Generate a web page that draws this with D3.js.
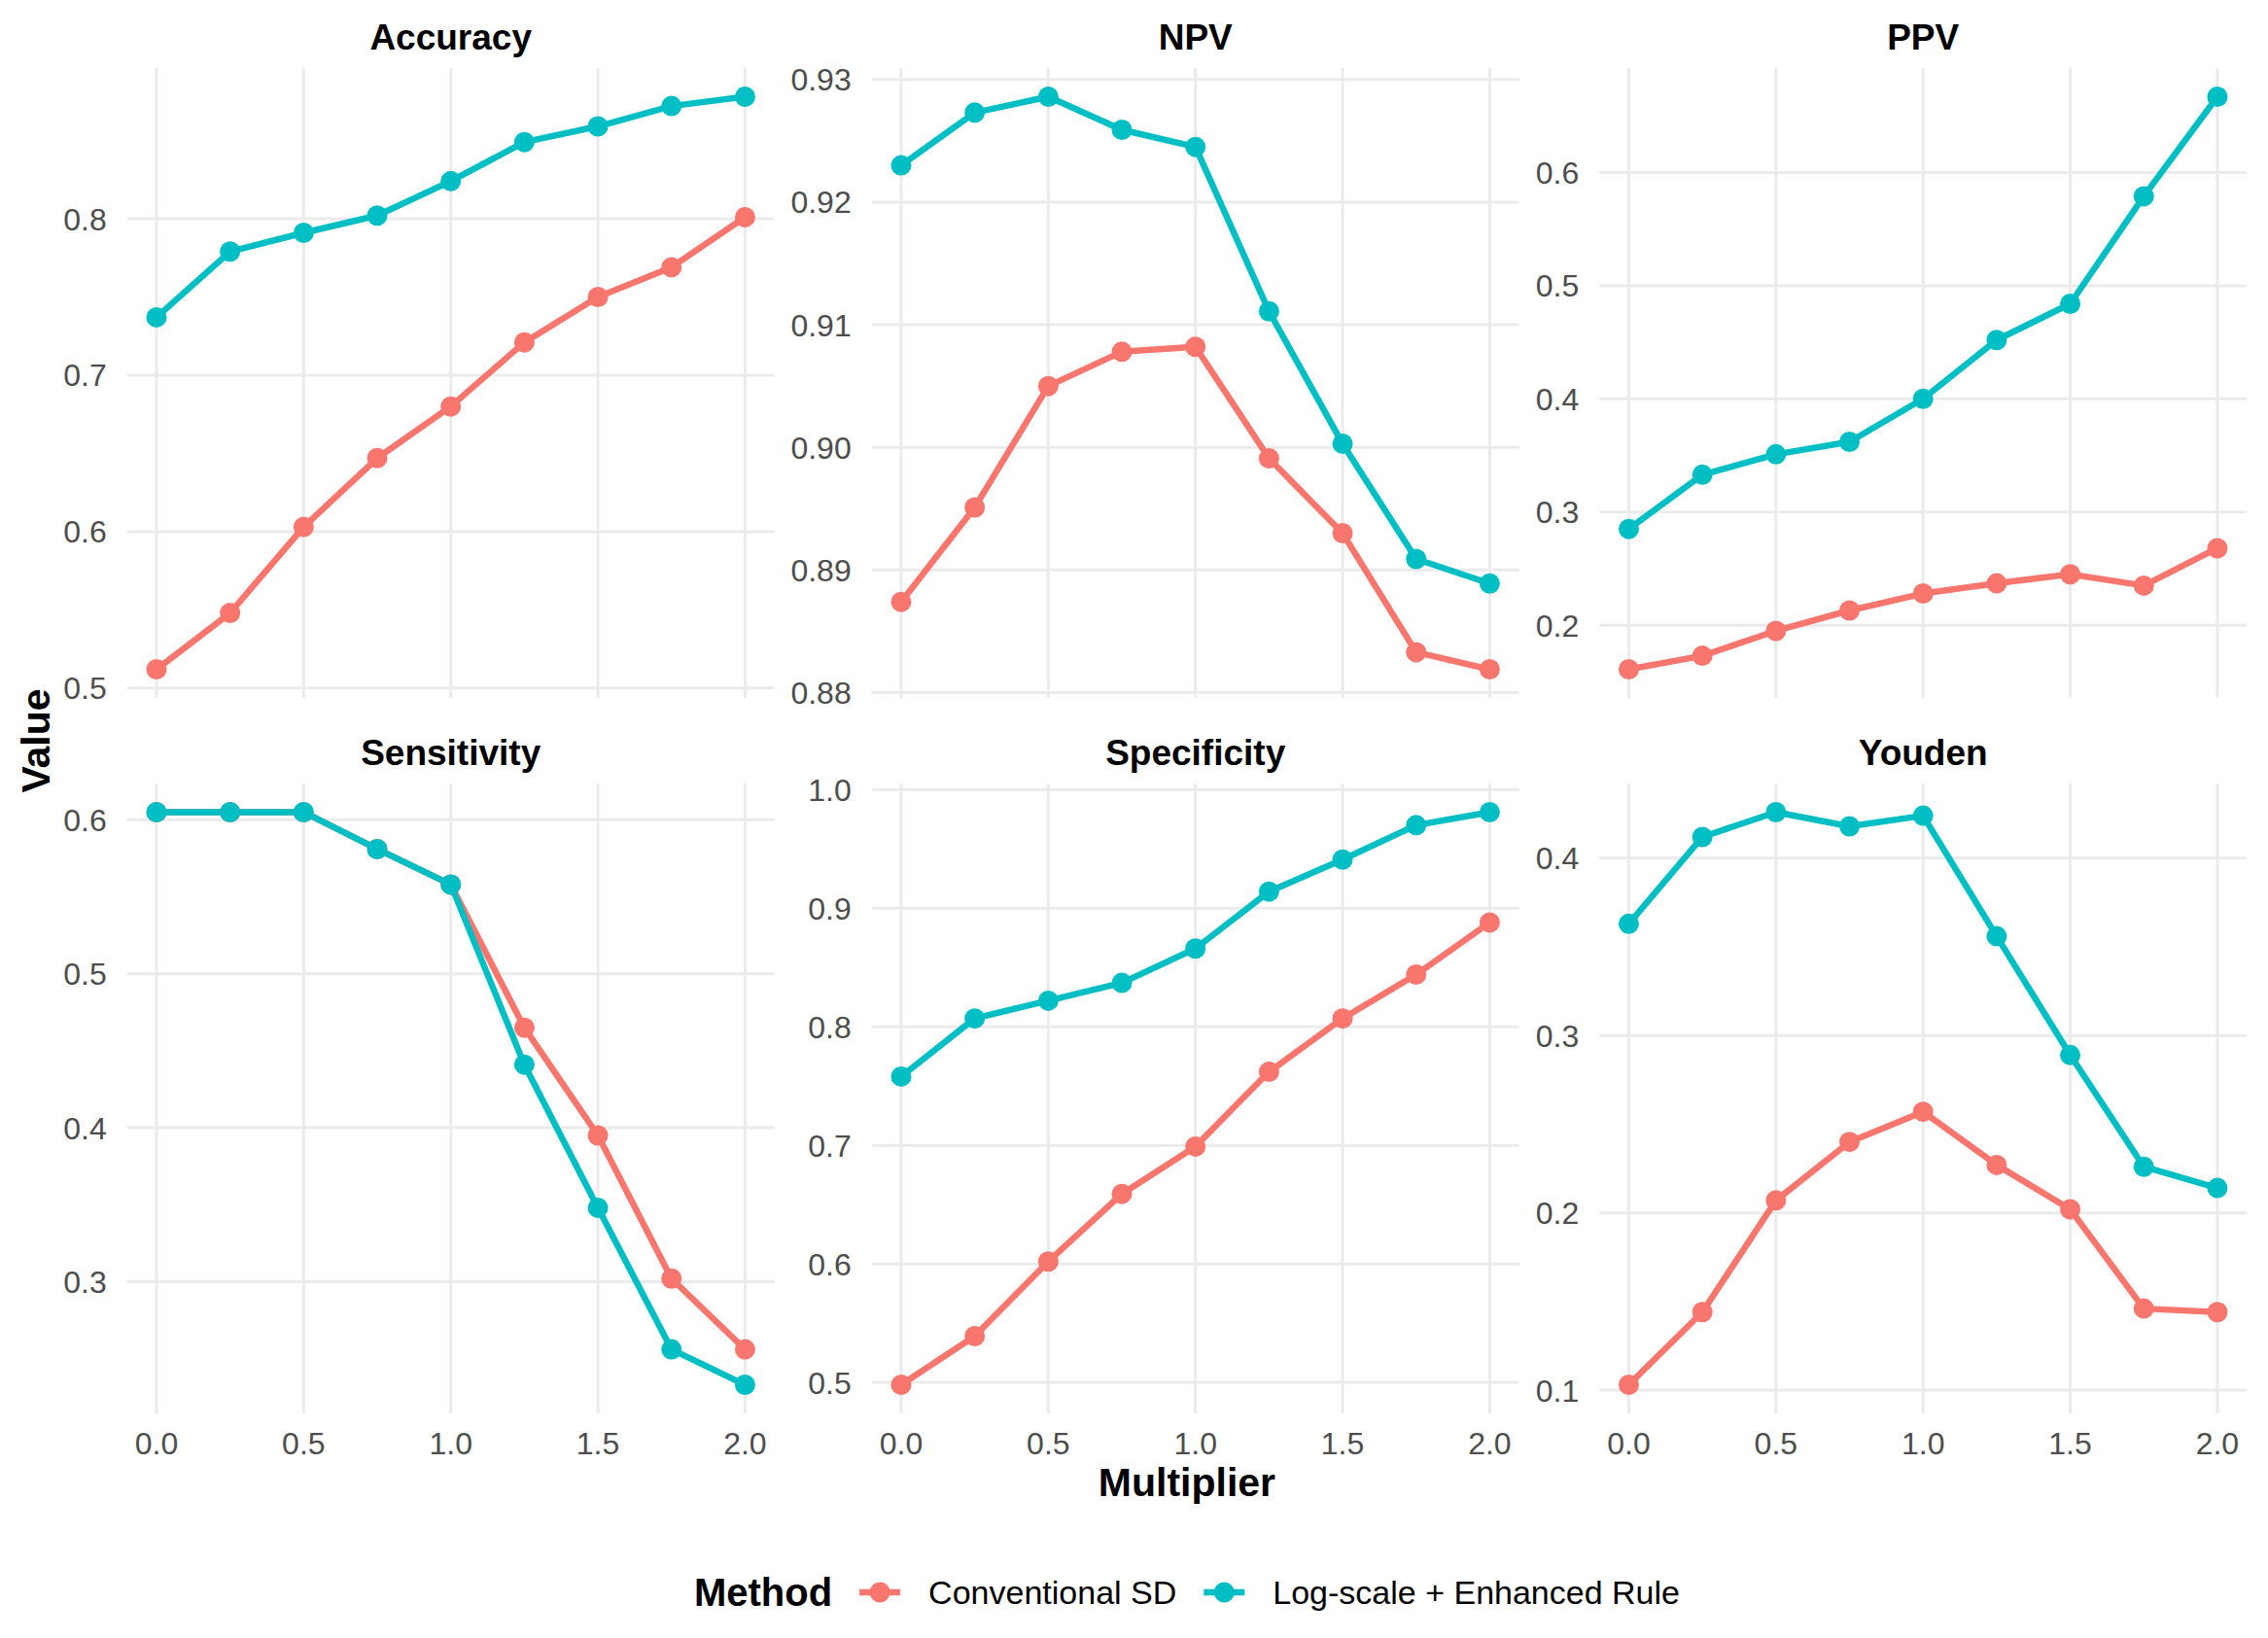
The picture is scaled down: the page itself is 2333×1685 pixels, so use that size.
<!DOCTYPE html>
<html lang="en">
  <head>
    <meta charset="utf-8">
    <title>Metrics by multiplier</title>
    <script type="text/javascript" src="https://cdn.jsdelivr.net/npm/d3@7"></script>
    <style>
      body { margin: 0; background: #fff; }
      text { font-family: "Liberation Sans", Arial, Helvetica, sans-serif; }
    </style>
  </head>
  <body>
    <script type="text/javascript">
    // x values shared by every panel
    var multipliers = [0, 0.25, 0.5, 0.75, 1.0, 1.25, 1.5, 1.75, 2.0];
    var methods = ["Conventional SD", "Log-scale + Enhanced Rule"];
    var metrics = ["Accuracy", "NPV", "PPV", "Sensitivity", "Specificity", "Youden"];

    // values, one array per metric and method
    var accuracyConv = [0.512, 0.548, 0.603, 0.647, 0.680, 0.721, 0.750, 0.769, 0.801];
    var accuracyLog  = [0.737, 0.779, 0.791, 0.802, 0.824, 0.849, 0.859, 0.872, 0.878];
    var npvConv = [0.8874, 0.8951, 0.9050, 0.9078, 0.9082, 0.8991, 0.8930, 0.8833, 0.8819];
    var npvLog  = [0.9230, 0.9273, 0.9286, 0.9259, 0.9245, 0.9111, 0.9003, 0.8909, 0.8889];
    var ppvConv = [0.161, 0.173, 0.195, 0.213, 0.228, 0.237, 0.245, 0.235, 0.268];
    var ppvLog  = [0.285, 0.333, 0.351, 0.362, 0.400, 0.452, 0.484, 0.579, 0.667];
    var sensConv = [0.605, 0.605, 0.605, 0.581, 0.558, 0.465, 0.395, 0.302, 0.256];
    var sensLog  = [0.605, 0.605, 0.605, 0.581, 0.558, 0.441, 0.348, 0.256, 0.233];
    var specConv = [0.498, 0.539, 0.602, 0.659, 0.699, 0.762, 0.807, 0.844, 0.888];
    var specLog  = [0.758, 0.807, 0.822, 0.837, 0.866, 0.914, 0.941, 0.970, 0.981];
    var youdenConv = [0.103, 0.144, 0.207, 0.240, 0.257, 0.227, 0.202, 0.146, 0.144];
    var youdenLog  = [0.363, 0.412, 0.426, 0.418, 0.424, 0.356, 0.289, 0.226, 0.214];

    // tick labels
    var xTicks = ["0.0", "0.5", "1.0", "1.5", "2.0"];
    var accuracyTicks = ["0.5", "0.6", "0.7", "0.8"];
    var npvTicks = ["0.88", "0.89", "0.90", "0.91", "0.92", "0.93"];
    var ppvTicks = ["0.2", "0.3", "0.4", "0.5", "0.6"];
    var sensTicks = ["0.3", "0.4", "0.5", "0.6"];
    var specTicks = ["0.5", "0.6", "0.7", "0.8", "0.9", "1.0"];
    var youdenTicks = ["0.1", "0.2", "0.3", "0.4"];

    var colours = ["#F8766D", "#00BFC4"];

    var panels = [
      {name: metrics[0], series: [accuracyConv, accuracyLog], ticks: accuracyTicks},
      {name: metrics[1], series: [npvConv, npvLog], ticks: npvTicks},
      {name: metrics[2], series: [ppvConv, ppvLog], ticks: ppvTicks},
      {name: metrics[3], series: [sensConv, sensLog], ticks: sensTicks},
      {name: metrics[4], series: [specConv, specLog], ticks: specTicks},
      {name: metrics[5], series: [youdenConv, youdenLog], ticks: youdenTicks}
    ];

    var w = 2333;
    var h = 1685;
    var colLeft = [130.7, 896.7, 1645.2];
    var rowTop = [70, 806];
    var panelW = 666;
    var panelH = 648;

    var svg = d3.select("body")
                .append("svg")
                .attr("width", w)
                .attr("height", h);

    svg.append("rect").attr("width", w).attr("height", h).attr("fill", "#fff");

    panels.forEach(function(p, i) {
      var left = colLeft[i % 3];
      var top = rowTop[Math.floor(i / 3)];
      var bottomRow = i >= 3;

      var x = d3.scaleLinear().domain([-0.1, 2.1]).range([left, left + panelW]);
      // ggplot style 5% expansion of the data range
      var all = p.series[0].concat(p.series[1]);
      var lo = d3.min(all), hi = d3.max(all), pad = (hi - lo) * 0.05;
      var y = d3.scaleLinear().domain([lo - pad, hi + pad]).range([top + panelH, top]);

      var g = svg.append("g");

      // grid
      g.selectAll(".hgrid")
       .data(p.ticks)
       .enter()
       .append("line")
       .attr("x1", left).attr("x2", left + panelW)
       .attr("y1", function(d) { return y(+d); })
       .attr("y2", function(d) { return y(+d); })
       .attr("stroke", "#EBEBEB").attr("stroke-width", 3);

      g.selectAll(".vgrid")
       .data(xTicks)
       .enter()
       .append("line")
       .attr("y1", top).attr("y2", top + panelH)
       .attr("x1", function(d) { return x(+d); })
       .attr("x2", function(d) { return x(+d); })
       .attr("stroke", "#EBEBEB").attr("stroke-width", 3);

      // y tick labels
      g.selectAll(".ylab")
       .data(p.ticks)
       .enter()
       .append("text")
       .attr("x", left - 21)
       .attr("y", function(d) { return y(+d); })
       .attr("dy", "0.36em")
       .attr("text-anchor", "end")
       .attr("font-size", 32)
       .attr("fill", "#4D4D4D")
       .text(function(d) { return d; });

      // x tick labels only under the bottom row
      if (bottomRow) {
        g.selectAll(".xlab")
         .data(xTicks)
         .enter()
         .append("text")
         .attr("x", function(d) { return x(+d); })
         .attr("y", top + panelH + 42)
         .attr("text-anchor", "middle")
         .attr("font-size", 32)
         .attr("fill", "#4D4D4D")
         .text(function(d) { return d; });
      }

      // strip title
      g.append("text")
       .attr("x", left + panelW / 2)
       .attr("y", top - 19)
       .attr("text-anchor", "middle")
       .attr("font-size", 37)
       .attr("font-weight", "bold")
       .attr("fill", "#000")
       .text(p.name);

      var line = d3.line()
                   .x(function(d, j) { return x(multipliers[j]); })
                   .y(function(d) { return y(d); });

      p.series.forEach(function(s, k) {
        g.append("path")
         .datum(s)
         .attr("d", line)
         .attr("fill", "none")
         .attr("stroke", colours[k])
         .attr("stroke-width", 6.5)
         .attr("stroke-linejoin", "round");
      });

      p.series.forEach(function(s, k) {
        g.selectAll(".pt" + k)
         .data(s)
         .enter()
         .append("circle")
         .attr("cx", function(d, j) { return x(multipliers[j]); })
         .attr("cy", function(d) { return y(d); })
         .attr("r", 10.5)
         .attr("fill", colours[k]);
      });
    });

    // axis titles
    svg.append("text")
       .attr("x", (colLeft[0] + colLeft[2] + panelW) / 2)
       .attr("y", 1539)
       .attr("text-anchor", "middle")
       .attr("font-size", 41)
       .attr("font-weight", "bold")
       .text("Multiplier");

    svg.append("text")
       .attr("transform", "translate(51," + (rowTop[0] + rowTop[1] + panelH) / 2 + ") rotate(-90)")
       .attr("text-anchor", "middle")
       .attr("font-size", 41)
       .attr("font-weight", "bold")
       .text("Value");

    // legend, laid out from measured text widths and centred
    var legend = svg.append("g");
    var ly = 1638;
    var title = legend.append("text")
                      .attr("y", ly).attr("dy", "0.36em")
                      .attr("font-size", 40).attr("font-weight", "bold")
                      .text("Method");
    var cursor = title.node().getComputedTextLength() + 28;
    methods.forEach(function(m, k) {
      legend.append("line")
            .attr("x1", cursor).attr("x2", cursor + 42)
            .attr("y1", ly).attr("y2", ly)
            .attr("stroke", colours[k]).attr("stroke-width", 6.5);
      legend.append("circle")
            .attr("cx", cursor + 21).attr("cy", ly).attr("r", 10.5)
            .attr("fill", colours[k]);
      cursor += 42 + 29;
      var t = legend.append("text")
                    .attr("x", cursor).attr("y", ly).attr("dy", "0.36em")
                    .attr("font-size", 34).attr("fill", "#000")
                    .text(m);
      cursor += t.node().getComputedTextLength() + 28;
    });
    var legendW = cursor - 28;
    var centre = (colLeft[0] + colLeft[2] + panelW) / 2;
    legend.attr("transform", "translate(" + (centre - legendW / 2) + ",0)");

    </script>
  </body>
</html>
